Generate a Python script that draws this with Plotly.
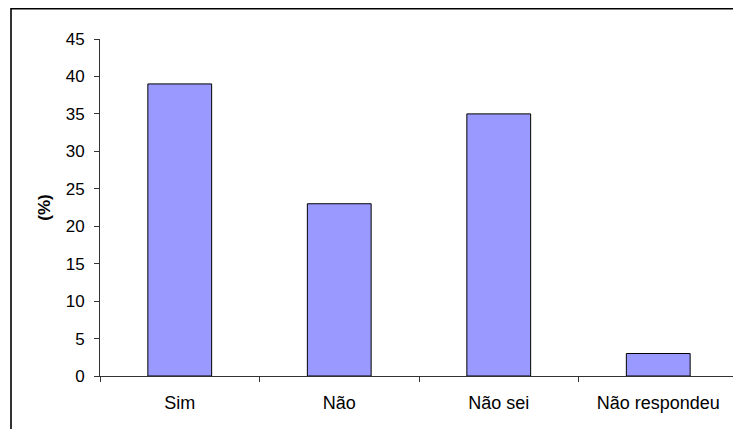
import plotly.graph_objects as go

categories = ["Sim", "Não", "Não sei", "Não respondeu"]
values = [39, 23, 35, 3]
y_ticks = [0, 5, 10, 15, 20, 25, 30, 35, 40, 45]

fig = go.Figure(go.Bar(
    x=categories, y=values, width=0.4,
    marker=dict(color="#9999FF", line=dict(color="black", width=1)),
))

# page has an 8px body margin; figure coordinates = page - 8
W, H = 733, 421
L, T = 92, 31
R, B = W - 730, H - 368
pw, ph = W - L - R, H - T - B

fig.update_layout(
    width=W, height=H,
    margin=dict(l=L, r=R, t=T, b=B),
    paper_bgcolor="white", plot_bgcolor="white",
    font=dict(family="Liberation Sans, Arial, sans-serif", size=17, color="black"),
    showlegend=False,
    shapes=[dict(
        type="rect", xref="paper", yref="paper",
        x0=(3 - L) / pw, x1=(W + 10 - L) / pw,
        y0=-(B + 10) / ph, y1=(ph + T - 0.8) / ph,
        line=dict(color="black", width=1.6), fillcolor="rgba(0,0,0,0)", layer="below",
    )],
)
fig.update_xaxes(
    showline=True, linecolor="#333", linewidth=1,
    ticks="outside", tickson="boundaries", ticklen=5, tickcolor="#333",
    showgrid=False, tickfont=dict(size=18), ticklabelstandoff=10,
)
fig.update_yaxes(
    range=[0, 45], tickvals=y_ticks, showline=True, linecolor="#333", linewidth=1,
    ticks="outside", ticklen=5, tickcolor="#333", showgrid=False, zeroline=False,
    tickfont=dict(size=17), ticklabelstandoff=6,
    title=dict(text="<b>(%)</b>", font=dict(size=17), standoff=10),
)
fig.write_html("out.html")
